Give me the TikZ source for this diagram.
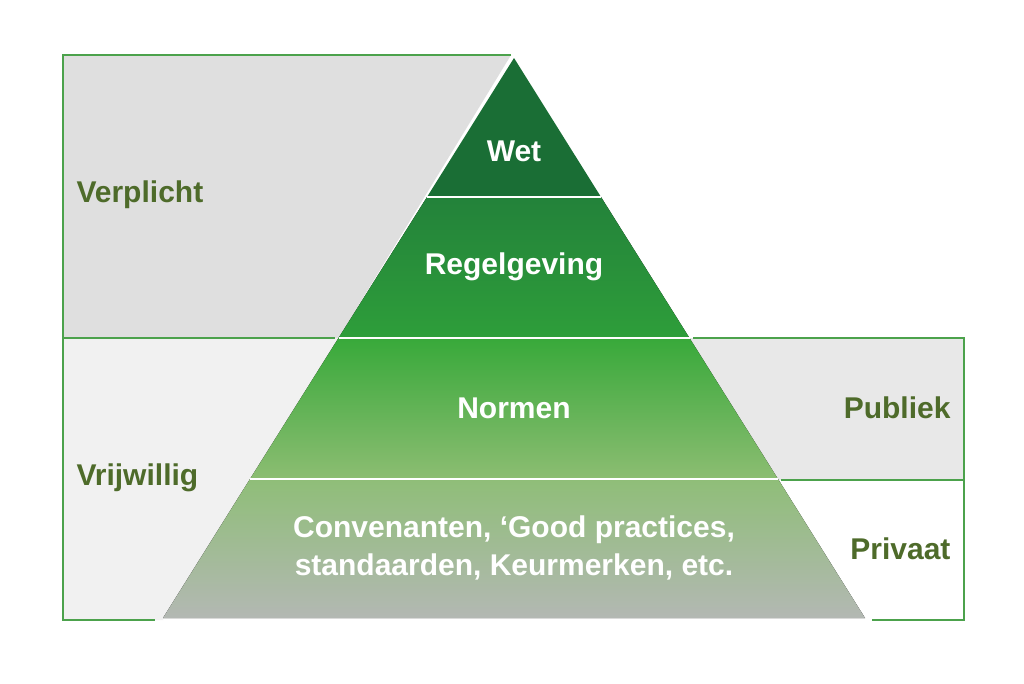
\documentclass[tikz,border=0pt]{standalone}
\usepackage{fontspec}
\setmainfont{Liberation Sans}
\begin{document}
\begin{tikzpicture}[x=1pt,y=-1pt,
  lab/.style={font=\bfseries\fontsize{30}{36}\selectfont,text=labg},
  pt/.style={font=\bfseries\fontsize{30}{38}\selectfont,text=white,align=center},
  frame/.style={draw=frameg,line width=1.2pt}]
\definecolor{labg}{HTML}{4E6B2A}
\definecolor{frameg}{HTML}{4CA24C}
\definecolor{g1}{HTML}{1A6E35}
\definecolor{g2a}{HTML}{23823A}
\definecolor{g2b}{HTML}{2E9E3A}
\definecolor{g3a}{HTML}{38A93A}
\definecolor{g3b}{HTML}{8CBD72}
\definecolor{g4a}{HTML}{8FBE78}
\definecolor{g4b}{HTML}{B3B8B3}
\useasboundingbox (0,0) rectangle (1024,683);
\fill[white] (0,0) rectangle (1024,683);
\fill[gray!25] (63,55) -- (511,55) -- (338.5,338) -- (63,338) -- cycle;
\fill[gray!11] (63,338) -- (338.5,338) -- (163,618) -- (163,620) -- (63,620) -- cycle;
\fill[gray!18] (689.5,338) -- (964,338) -- (964,480) -- (778,480) -- cycle;
\draw[frame] (511,55) -- (63,55) -- (63,620) -- (155,620);
\draw[frame] (63,338) -- (335,338);
\draw[frame] (693,338) -- (964,338) -- (964,620) -- (872,620);
\draw[frame] (781,480) -- (964,480);
\fill[g1] (514,58) -- (601,197) -- (427,197) -- cycle;
\fill[top color=g2a,bottom color=g2b] (427,197) -- (601,197) -- (689.5,338) -- (338.5,338) -- cycle;
\fill[top color=g3a,bottom color=g3b] (338.5,338) -- (689.5,338) -- (778,479) -- (250,479) -- cycle;
\fill[top color=g4a,bottom color=g4b] (250,479) -- (778,479) -- (865,618) -- (163,618) -- cycle;
\draw[white,line width=1.5pt] (427,197) -- (601,197) (338.5,338) -- (689.5,338) (250,479) -- (778,479);
\node[pt] (wet) at (514,151) {Wet};
\node[pt] (reg) at (514,267) {Regelgeving};
\node[pt] (nor) at (514,408) {Normen};
\node[pt] (con) at (514,548) {Convenanten, ‘Good practices,\\standaarden, Keurmerken, etc.};
\node[lab,anchor=west] (ver) at (73,195) {Verplicht};
\node[lab,anchor=west] (vri) at (73,478) {Vrijwillig};
\node[lab,anchor=east] (pub) at (954,408) {Publiek};
\node[lab,anchor=east] (pri) at (954,549) {Privaat};
\end{tikzpicture}
\end{document}
